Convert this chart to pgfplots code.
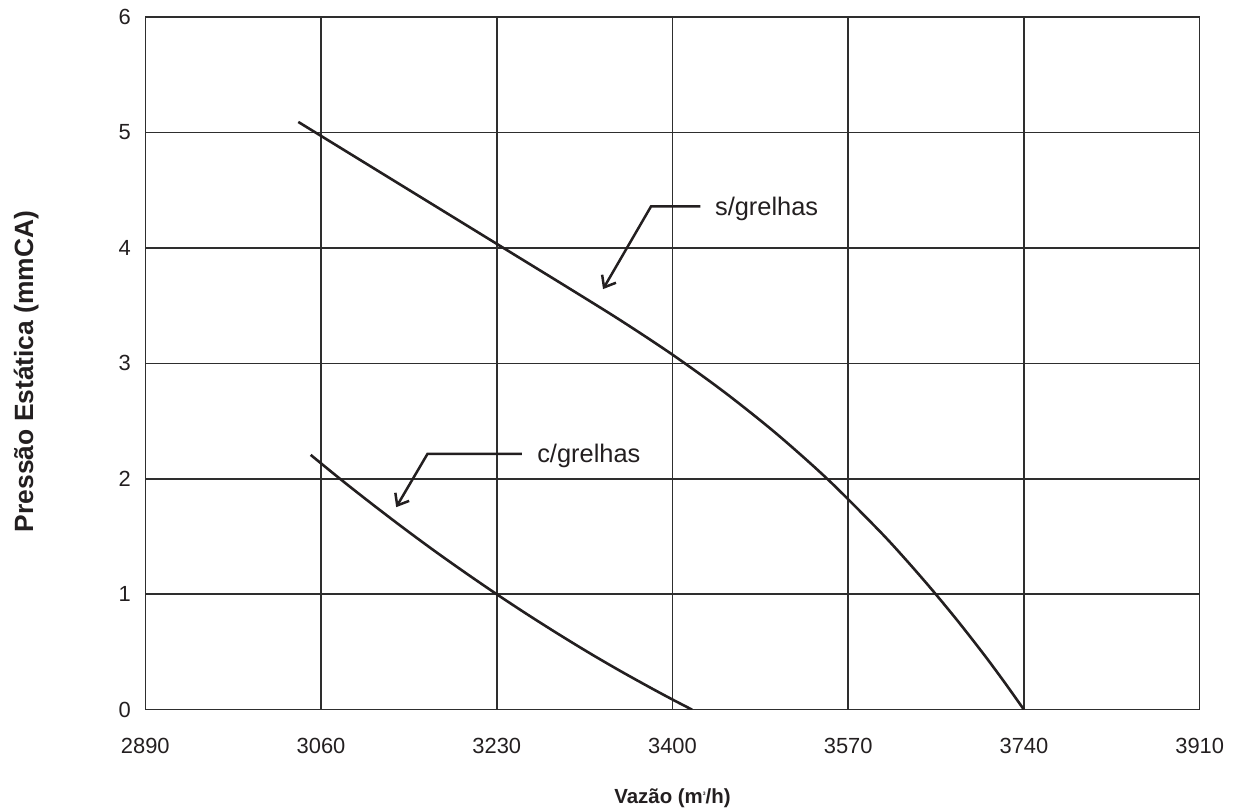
\documentclass[border=0pt]{standalone}
\usepackage{fontspec}
\setmainfont{Liberation Sans}
\usepackage{pgfplots}
\pgfplotsset{compat=1.18}
\usetikzlibrary{arrows.meta}
\definecolor{ink}{HTML}{231F20}
\definecolor{gridc}{HTML}{2E2E2E}
\begin{document}
\begin{tikzpicture}
\begin{axis}[
  name=ax,
  scale only axis,
  width=1054.4bp, height=692.7bp,
  xmin=2890, xmax=3910, ymin=0, ymax=6,
  xtick={2890,3060,3230,3400,3570,3740,3910},
  ytick={0,1,2,3,4,5,6},
  grid=major,
  major grid style={line width=1.5bp, draw=gridc},
  axis line style={line width=1.5bp, draw=gridc},
  major tick length=0pt,
  /pgf/number format/assume math mode=true,
  /pgf/number format/set thousands separator={},
  ticklabel style={font=\fontsize{22}{24}\selectfont, text=ink},
  xticklabel style={yshift=-25bp},
  yticklabel style={xshift=-11bp},
  xlabel={\bfseries Vaz\~ao (m\raisebox{0.75ex}{\fontsize{5}{5}\selectfont 3}/h)},
  xlabel style={font=\fontsize{20.5}{24}\selectfont, text=ink, at={(axis description cs:0.5,0)}, anchor=center, yshift=-89bp},
  ylabel={\bfseries Press\~ao Est\'atica (mmCA)},
  ylabel style={font=\fontsize{26.5}{30}\selectfont, text=ink, at={(axis description cs:0,0.5)}, anchor=center, yshift=119bp, xshift=-8bp},
]
% s/grelhas
\addplot[ink, line width=2.6bp, smooth] coordinates {
  (3038,5.091) (3060,4.970) (3100,4.750) (3150,4.475) (3200,4.200) (3250,3.925)
  (3300,3.650) (3350,3.371) (3400,3.075) (3450,2.752) (3500,2.395) (3550,1.997)
  (3600,1.550) (3625,1.307) (3650,1.050) (3675,0.779) (3700,0.493) (3720,0.252) (3740,0)
};
% c/grelhas
\addplot[ink, line width=2.6bp, smooth] coordinates {
  (3050,2.207) (3080,1.988) (3110,1.777) (3140,1.572) (3170,1.374) (3200,1.184)
  (3230,1.000) (3260,0.823) (3290,0.653) (3320,0.489) (3350,0.333) (3380,0.184)
  (3400,0.088) (3419,0)
};
\draw[ink, line width=2.5bp, -{Straight Barb[length=10bp,width=16bp,line width=2.5bp]}]
  (axis cs:3427,4.359) -- (axis cs:3379.2,4.359) -- (axis cs:3332.8,3.643);
\draw[ink, line width=2.5bp, -{Straight Barb[length=10bp,width=16bp,line width=2.5bp]}]
  (axis cs:3254.4,2.216) -- (axis cs:3163,2.216) -- (axis cs:3132.7,1.754);
\node[anchor=west, inner sep=0pt, text=ink, font=\fontsize{25.5}{28}\selectfont] at (axis cs:3441,4.34) {s/grelhas};
\node[anchor=west, inner sep=0pt, text=ink, font=\fontsize{25.5}{28}\selectfont] at (axis cs:3269,2.20) {c/grelhas};
\end{axis}
\path (ax.south west) ++(-145.3bp,-101.3bp) coordinate (bl);
\path (ax.north east) ++(34.3bp,17bp) coordinate (tr);
\path (bl) rectangle (tr);
\end{tikzpicture}
\end{document}
